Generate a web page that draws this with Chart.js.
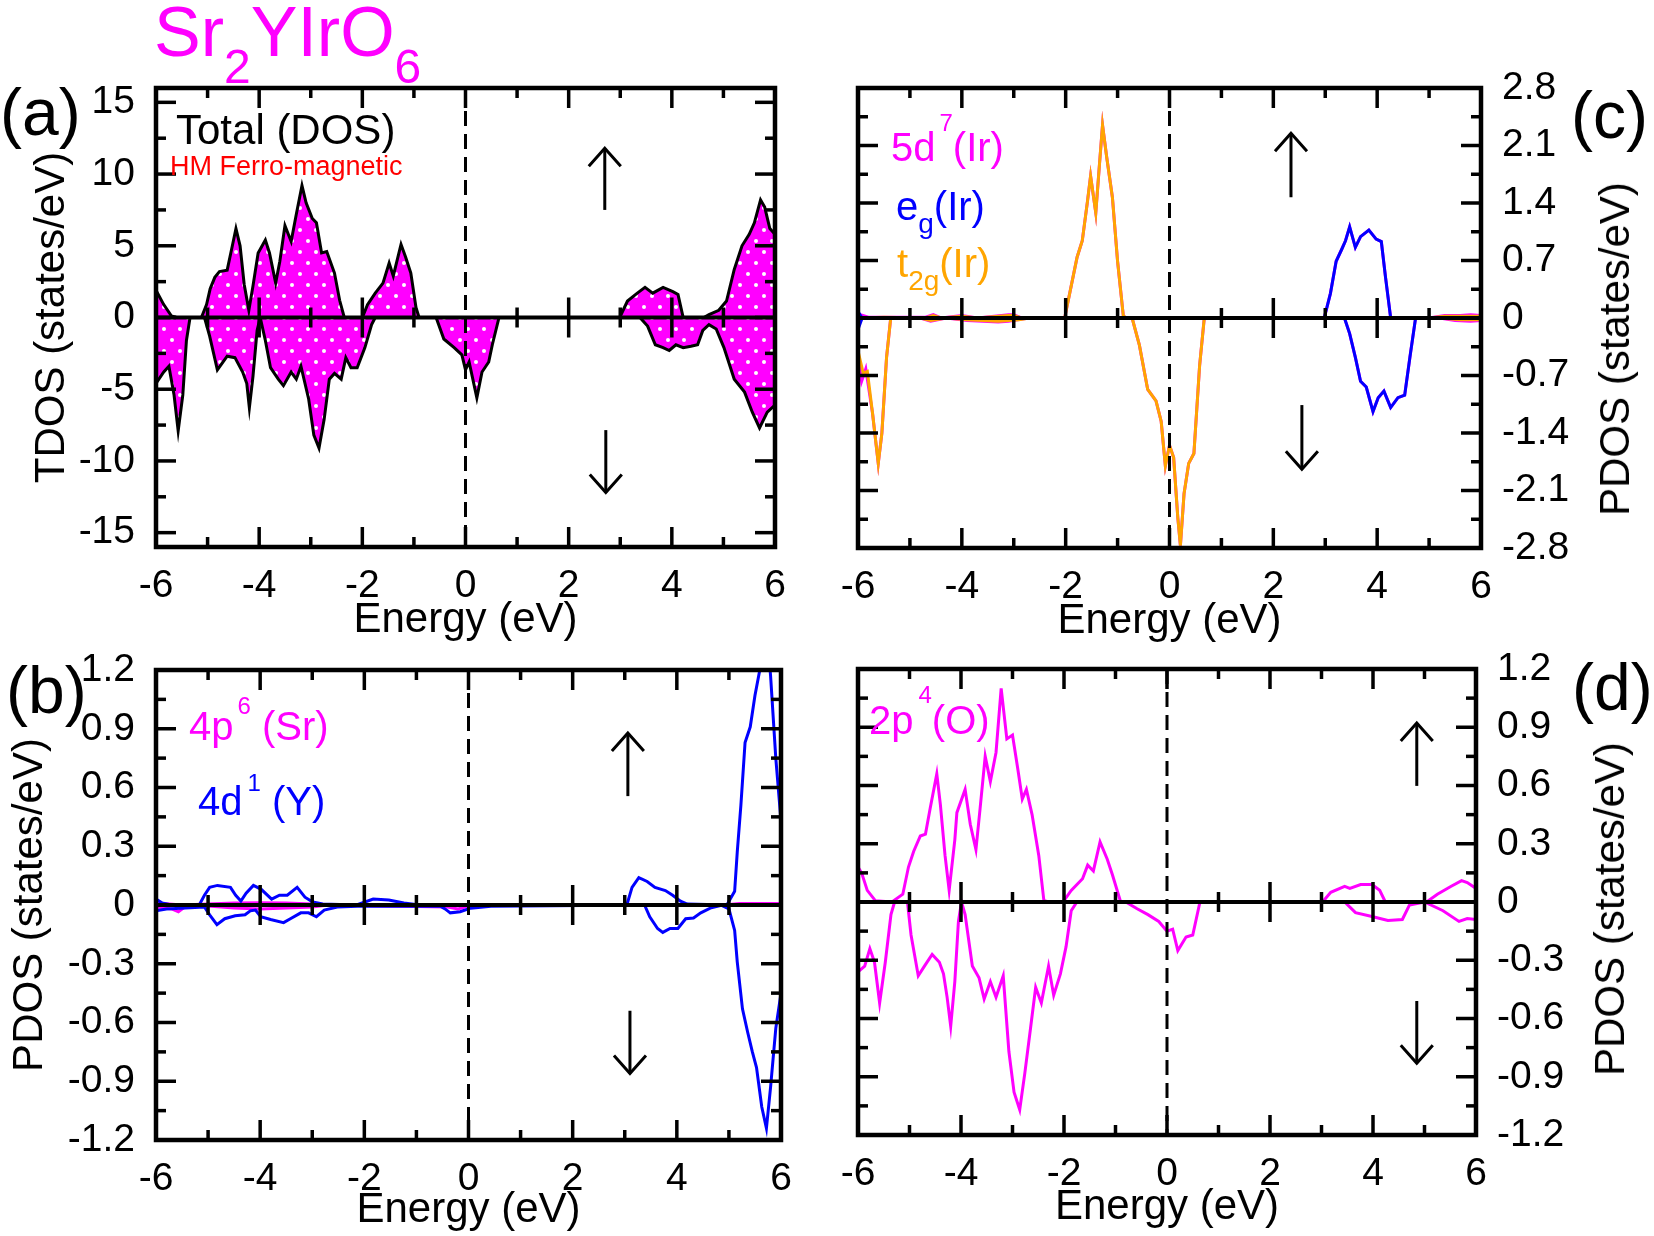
<!DOCTYPE html>
<html>
<head>
<meta charset="utf-8">
<title>Sr2YIrO6 DOS</title>
<script src="https://cdn.jsdelivr.net/npm/chart.js@4.4.0/dist/chart.umd.min.js"></script>
<style>
  body { margin: 0; background: #fff; }
  #page { position: relative; width: 1654px; height: 1236px; overflow: hidden;
          font-family: "Liberation Sans", Arial, sans-serif; }
  canvas { position: absolute; }
  .txt { position: absolute; line-height: 1; white-space: nowrap; }
  .sub, .sup { position: relative; line-height: 0; }
  .rot { transform: translate(-50%, -50%) rotate(-90deg); }
</style>
</head>
<body>
<div id="page">
  <canvas id="chartA" width="820" height="608" style="left:0;top:38px"></canvas>
  <canvas id="chartC" width="834" height="609" style="left:820px;top:38px"></canvas>
  <canvas id="chartB" width="826" height="616" style="left:0;top:620px"></canvas>
  <canvas id="chartD" width="834" height="614" style="left:820px;top:619px"></canvas>

  <div class="txt" style="left:154px;top:-3px;font-size:70px;color:#ff00ff">Sr<span class="sub" style="font-size:48px;top:27px">2</span>YIrO<span class="sub" style="font-size:48px;top:27px">6</span></div>

  <div class="txt" style="left:0;top:79px;font-size:66px">(a)</div>
  <div class="txt" style="left:1571px;top:82px;font-size:66px">(c)</div>
  <div class="txt" style="left:6px;top:657px;font-size:66px">(b)</div>
  <div class="txt" style="left:1572px;top:654px;font-size:66px">(d)</div>

  <div class="txt" style="left:176px;top:109px;font-size:42px">Total (DOS)</div>
  <div class="txt" style="left:170px;top:153px;font-size:27px;color:#ff0000">HM Ferro-magnetic</div>

  <div class="txt" style="left:891px;top:127px;font-size:40px;color:#ff00ff">5d<span class="sup" style="font-size:24px;top:-30px;margin-left:4px">7</span>(Ir)</div>
  <div class="txt" style="left:896px;top:186px;font-size:40px;color:#0000ff">e<span class="sub" style="font-size:28px;top:13px">g</span>(Ir)</div>
  <div class="txt" style="left:897px;top:243px;font-size:40px;color:#ffa500">t<span class="sub" style="font-size:28px;top:13px">2g</span>(Ir)</div>

  <div class="txt" style="left:189px;top:706px;font-size:40px;color:#ff00ff">4p<span class="sup" style="font-size:24px;top:-26px;margin-left:4px">6</span> (Sr)</div>
  <div class="txt" style="left:198px;top:781px;font-size:40px;color:#0000ff">4d<span class="sup" style="font-size:24px;top:-24px;margin-left:5px">1</span> (Y)</div>

  <div class="txt" style="left:869px;top:700px;font-size:40px;color:#ff00ff">2p<span class="sup" style="font-size:24px;top:-31px;margin-left:5px">4</span>(O)</div>

  <div class="txt rot" style="left:1615px;top:349px;font-size:42px">PDOS (states/eV)</div>
  <div class="txt rot" style="left:1610px;top:909px;font-size:42px">PDOS (states/eV)</div>
</div>

<script>
// setup: ticks
const energyTicks = [-6, -4, -2, 0, 2, 4, 6];
const energyLabels = ["-6", "-4", "-2", "0", "2", "4", "6"];
const tdosTicks = [-15, -10, -5, 0, 5, 10, 15];
const tdosLabels = ["-15", "-10", "-5", "0", "5", "10", "15"];
const irTicks = [-2.8, -2.1, -1.4, -0.7, 0, 0.7, 1.4, 2.1, 2.8];
const irLabels = ["-2.8", "-2.1", "-1.4", "-0.7", "0", "0.7", "1.4", "2.1", "2.8"];
const pdosTicks = [-1.2, -0.9, -0.6, -0.3, 0, 0.3, 0.6, 0.9, 1.2];
const pdosLabels = ["-1.2", "-0.9", "-0.6", "-0.3", "0", "0.3", "0.6", "0.9", "1.2"];

// setup: (a) total DOS
const tdosUpE = [-6, -5.85, -5.7, -5.6, -5.12, -5.02, -4.95, -4.86, -4.77, -4.62, -4.52, -4.45, -4.37, -4.29, -4.2, -4.12, -4.02, -3.88, -3.8, -3.68, -3.6, -3.5, -3.38, -3.28, -3.17, -3.09, -2.97, -2.89, -2.79, -2.69, -2.54, -2.44, -2.35, -2.0, -1.9, -1.75, -1.6, -1.48, -1.4, -1.25, -1.16, -1.06, -0.96, -0.9, 2.99, 3.14, 3.33, 3.48, 3.63, 3.83, 4.02, 4.12, 4.22, 4.62, 4.72, 4.91, 5.06, 5.21, 5.36, 5.5, 5.6, 5.72, 5.8, 5.9, 6.0];
const tdosUp = [1.9, 0.9, 0.1, 0, 0, 0.9, 2.0, 2.8, 3.2, 3.3, 5.0, 6.2, 5.0, 2.3, 0.5, 2.2, 4.5, 5.4, 4.5, 2.4, 3.9, 6.4, 5.3, 7.2, 9.2, 8.0, 6.9, 6.6, 4.5, 4.6, 3.1, 1.2, 0, 0, 0.9, 1.7, 2.4, 3.8, 2.9, 5.1, 4.2, 3.1, 0.7, 0, 0, 1.15, 1.7, 2.1, 1.7, 2.1, 1.8, 1.6, 0, 0, 0.2, 0.5, 1.15, 3.35, 5.0, 5.8, 6.6, 8.2, 7.7, 6.2, 5.8];
const tdosDnE = [-6, -5.85, -5.75, -5.65, -5.57, -5.48, -5.41, -5.34, -5.06, -4.96, -4.81, -4.62, -4.47, -4.32, -4.24, -4.19, -4.12, -4.04, -3.98, -3.88, -3.78, -3.63, -3.53, -3.38, -3.28, -3.19, -3.04, -2.94, -2.84, -2.74, -2.64, -2.54, -2.41, -2.32, -2.22, -2.1, -1.95, -1.82, -1.75, -0.57, -0.42, -0.22, -0.07, 0, 0.07, 0.22, 0.32, 0.45, 0.52, 0.65, 3.38, 3.53, 3.68, 3.83, 3.95, 4.08, 4.22, 4.37, 4.5, 4.6, 4.72, 4.86, 5.01, 5.21, 5.41, 5.56, 5.7, 5.85, 6];
const tdosDn = [-4.6, -3.8, -3.4, -5.4, -7.9, -5.4, -1.6, 0, 0, -1.3, -3.65, -2.7, -2.8, -3.8, -4.6, -6.3, -4.1, -0.9, 0, -1.6, -3.5, -4.3, -4.75, -3.8, -4.3, -3.4, -5.7, -8.2, -9.1, -7.1, -4.3, -3.9, -4.3, -2.8, -3.5, -3.5, -2.1, -0.5, 0, 0, -1.5, -2.1, -2.6, -3.65, -3.1, -5.6, -3.8, -3.1, -1.9, 0, 0, -0.6, -1.9, -2.1, -2.3, -1.9, -2.1, -2.0, -1.9, -0.9, -0.5, -0.8, -2.1, -4.3, -5.2, -6.6, -7.7, -6.6, -6.1];

// setup: (c) Ir 5d, eg, t2g
const t2gUpE = [-6, -5.5, -4.7, -4.55, -4.4, -4.0, -3.7, -3.1, -3.0, -2.85, -2.02, -1.89, -1.78, -1.68, -1.58, -1.52, -1.42, -1.35, -1.29, -1.21, -1.1, -1.0, -0.89, -0.84, 5.0, 5.3, 5.7, 6];
const t2gUp = [0, 0.01, 0, 0.03, 0, 0.02, 0, 0.03, 0.03, 0, 0, 0.4, 0.74, 0.94, 1.42, 1.73, 1.28, 1.86, 2.35, 1.96, 1.47, 0.69, 0.03, 0, 0, 0.02, 0.02, 0.02];
const t2gDnE = [-6, -5.9, -5.82, -5.72, -5.61, -5.54, -5.45, -5.37, -4.8, -4.6, -4.3, -3.9, -3.3, -3.1, -2.9, -2.7, -0.72, -0.58, -0.42, -0.26, -0.16, -0.08, 0, 0.08, 0.16, 0.21, 0.28, 0.37, 0.47, 0.58, 0.67, 5.2, 5.6, 6];
const t2gDn = [-0.4, -0.67, -0.65, -1.16, -1.77, -1.4, -0.48, 0, 0, -0.03, 0, -0.02, -0.04, -0.03, -0.02, 0, 0, -0.33, -0.87, -1.01, -1.26, -1.8, -1.55, -1.7, -2.43, -2.77, -2.14, -1.77, -1.65, -0.58, 0, 0, -0.02, -0.02];
const egUpE = [-6, -5.92, 2.98, 3.1, 3.21, 3.32, 3.39, 3.47, 3.58, 3.68, 3.84, 3.98, 4.08, 4.16, 4.26, 6];
const egUp = [0.08, 0, 0, 0.3, 0.69, 0.84, 0.94, 1.11, 0.86, 0.99, 1.07, 0.96, 0.93, 0.5, 0, 0];
const egDnE = [-6, -5.92, 3.37, 3.47, 3.58, 3.68, 3.79, 3.92, 4.02, 4.13, 4.26, 4.4, 4.53, 4.63, 4.74, 6];
const egDn = [-0.14, 0, 0, -0.19, -0.48, -0.77, -0.84, -1.14, -0.97, -0.89, -1.09, -0.97, -0.94, -0.48, 0, 0];
const ir5dUpE = [-6, -5.8, -5.5, -4.7, -4.55, -4.4, -4.0, -3.7, -3.1, -3.0, -2.85, -2.02, -1.89, -1.78, -1.68, -1.58, -1.52, -1.42, -1.35, -1.29, -1.21, -1.1, -1.0, -0.89, -0.84, 2.98, 3.1, 3.21, 3.32, 3.39, 3.47, 3.58, 3.68, 3.84, 3.98, 4.08, 4.16, 4.26, 5.0, 5.3, 5.6, 5.8, 6];
const ir5dUp = [0.05, 0.01, 0.01, 0.01, 0.04, 0, 0.03, 0, 0.04, 0.04, 0, 0, 0.4, 0.74, 0.94, 1.42, 1.73, 1.28, 1.86, 2.35, 1.96, 1.47, 0.69, 0.03, 0, 0, 0.3, 0.69, 0.84, 0.94, 1.11, 0.86, 0.99, 1.07, 0.96, 0.93, 0.5, 0, 0, 0.03, 0.03, 0.04, 0.03];
const ir5dDnE = [-6, -5.93, -5.85, -5.72, -5.61, -5.54, -5.45, -5.37, -4.8, -4.6, -4.3, -3.9, -3.3, -3.1, -2.9, -2.7, -0.72, -0.58, -0.42, -0.26, -0.16, -0.08, 0, 0.08, 0.16, 0.21, 0.28, 0.37, 0.47, 0.58, 0.67, 3.37, 3.47, 3.58, 3.68, 3.79, 3.92, 4.02, 4.13, 4.26, 4.4, 4.53, 4.63, 4.74, 5.2, 5.5, 5.8, 6];
const ir5dDn = [-0.45, -0.77, -0.62, -1.16, -1.77, -1.4, -0.48, 0, 0, -0.04, 0, -0.03, -0.05, -0.04, -0.02, 0, 0, -0.33, -0.87, -1.01, -1.26, -1.8, -1.55, -1.7, -2.43, -2.77, -2.14, -1.77, -1.65, -0.58, 0, 0, -0.19, -0.48, -0.77, -0.84, -1.14, -0.97, -0.89, -1.09, -0.97, -0.94, -0.48, 0, 0, -0.03, -0.04, -0.03];

// setup: (b) Sr 4p, Y 4d
const sr4pUpE = [-6, -5.5, -5.0, -4.5, -4.0, -3.5, -3.0, -2.5, 4.9, 5.2, 6];
const sr4pUp = [0.01, 0, 0.005, 0.01, 0.012, 0.01, 0.005, 0, 0, 0.008, 0.008];
const sr4pDnE = [-6, -5.7, -5.57, -5.45, -5.0, -4.5, -4.0, -3.5, -3.0, -2.7, -0.4, -0.2, 0, 0.3, 6];
const sr4pDn = [-0.01, -0.02, -0.035, -0.01, -0.005, -0.015, -0.02, -0.015, -0.01, 0, -0.01, -0.02, -0.005, 0, 0];
const y4dUpE = [-6, -5.88, -5.7, -5.17, -5.07, -4.97, -4.82, -4.57, -4.47, -4.37, -4.27, -4.13, -3.98, -3.78, -3.63, -3.48, -3.29, -3.14, -2.99, -2.8, -2.15, -1.83, -1.53, -1.24, -0.94, 3.04, 3.14, 3.27, 3.43, 3.58, 3.78, 3.92, 4.07, 4.2, 4.96, 5.11, 5.16, 5.23, 5.31, 5.41, 5.5, 5.6, 5.68, 5.76, 5.8, 5.9, 6.0];
const y4dUp = [0.03, 0.01, 0, 0, 0.05, 0.09, 0.1, 0.09, 0.05, 0.02, 0.06, 0.1, 0.08, 0.03, 0.05, 0.05, 0.09, 0.04, 0.015, 0.005, 0, 0.03, 0.026, 0.01, 0, 0, 0.09, 0.14, 0.12, 0.09, 0.074, 0.05, 0.02, 0.005, 0, 0.07, 0.27, 0.51, 0.83, 0.91, 1.07, 1.21, 1.3, 1.3, 1.17, 0.75, 0.43];
const y4dDnE = [-6, -5.8, -5.07, -4.97, -4.83, -4.68, -4.48, -4.29, -4.19, -4.09, -3.99, -3.8, -3.55, -3.42, -3.22, -3.07, -2.92, -2.77, -2.52, -2.13, -0.55, -0.45, -0.35, -0.16, 0.04, 0.43, 3.38, 3.48, 3.63, 3.73, 3.87, 4.02, 4.17, 4.32, 4.46, 4.66, 4.86, 5.0, 5.11, 5.16, 5.26, 5.36, 5.45, 5.53, 5.63, 5.72, 5.8, 5.9, 6.0];
const y4dDn = [-0.03, -0.02, -0.01, -0.05, -0.1, -0.07, -0.055, -0.05, -0.03, -0.026, -0.06, -0.074, -0.09, -0.07, -0.04, -0.04, -0.06, -0.026, -0.01, -0.006, -0.005, -0.02, -0.04, -0.034, -0.016, -0.006, 0, -0.06, -0.12, -0.14, -0.12, -0.12, -0.07, -0.066, -0.04, -0.014, -0.002, -0.02, -0.13, -0.29, -0.53, -0.65, -0.75, -0.83, -1.03, -1.14, -0.93, -0.63, -0.45];

// setup: (d) O 2p
const o2pUpE = [-6, -5.93, -5.82, -5.66, -5.34, -5.13, -5.02, -4.92, -4.79, -4.69, -4.6, -4.47, -4.4, -4.31, -4.23, -4.12, -4.08, -3.92, -3.82, -3.71, -3.63, -3.53, -3.43, -3.32, -3.22, -3.11, -3.0, -2.9, -2.81, -2.73, -2.62, -2.49, -2.39, -2.28, -2.02, -1.86, -1.64, -1.54, -1.43, -1.3, -1.16, -1.06, -0.9, 3.02, 3.18, 3.45, 3.55, 3.76, 3.98, 4.13, 4.24, 5.04, 5.25, 5.51, 5.72, 5.83, 6];
const o2pUp = [0.18, 0.15, 0.06, 0.006, 0, 0.04, 0.18, 0.26, 0.34, 0.35, 0.48, 0.66, 0.5, 0.24, 0.06, 0.32, 0.46, 0.58, 0.4, 0.27, 0.48, 0.75, 0.62, 0.77, 1.1, 0.84, 0.86, 0.69, 0.53, 0.58, 0.45, 0.24, 0.006, 0, 0, 0.06, 0.12, 0.19, 0.16, 0.31, 0.22, 0.14, 0, 0, 0.05, 0.08, 0.07, 0.09, 0.09, 0.06, 0, 0, 0.04, 0.08, 0.11, 0.1, 0.07];
const o2pDnE = [-6, -5.87, -5.77, -5.68, -5.58, -5.47, -5.36, -5.29, -5.04, -4.97, -4.83, -4.71, -4.56, -4.42, -4.34, -4.27, -4.2, -4.12, -4.05, -3.99, -3.92, -3.78, -3.65, -3.55, -3.43, -3.32, -3.18, -3.07, -2.97, -2.86, -2.76, -2.65, -2.55, -2.44, -2.3, -2.2, -2.07, -1.96, -1.86, -1.75, -0.8, -0.58, -0.37, -0.16, 0, 0.11, 0.21, 0.37, 0.5, 0.64, 3.45, 3.66, 3.98, 4.29, 4.57, 4.71, 5.0, 5.36, 5.67, 5.83, 6];
const o2pDn = [-0.36, -0.33, -0.24, -0.31, -0.52, -0.31, -0.065, 0, 0, -0.17, -0.38, -0.33, -0.27, -0.31, -0.37, -0.49, -0.64, -0.41, -0.1, 0, -0.065, -0.33, -0.39, -0.5, -0.41, -0.49, -0.38, -0.77, -0.98, -1.07, -0.88, -0.65, -0.44, -0.52, -0.33, -0.48, -0.37, -0.23, -0.045, 0, 0, -0.035, -0.065, -0.1, -0.15, -0.14, -0.25, -0.18, -0.17, 0, 0, -0.055, -0.075, -0.095, -0.09, -0.015, 0, -0.045, -0.1, -0.085, -0.09];

// helpers
Chart.defaults.color = "#000";
Chart.defaults.font.family = '"Liberation Sans", Arial, sans-serif';

const pts = (xs, ys) => xs.map((x, i) => ({ x: x, y: ys[i] }));

function curve(xs, ys, color, extra) {
  return Object.assign(
    { data: pts(xs, ys), borderColor: color, borderWidth: 3, pointRadius: 0, tension: 0, fill: false },
    extra || {}
  );
}

function line(ctx, x1, y1, x2, y2) {
  ctx.beginPath();
  ctx.moveTo(x1, y1);
  ctx.lineTo(x2, y2);
  ctx.stroke();
}

// frame, inward ticks, zero axis, Fermi level and spin arrows (xmgrace look)
const framePlugin = {
  id: "frame",
  afterDatasetsDraw(chart, args, o) {
    const { ctx, chartArea: a } = chart;
    const px = (v) => chart.scales.x.getPixelForValue(v);
    const py = (v) => chart.scales.y.getPixelForValue(v);
    ctx.save();
    ctx.strokeStyle = "#000";

    ctx.lineWidth = 3;
    ctx.setLineDash([15, 8]);
    line(ctx, px(0), a.top, px(0), a.bottom);
    ctx.setLineDash([]);

    ctx.lineWidth = 4;
    const y0 = py(0);
    line(ctx, a.left, y0, a.right, y0);
    ctx.lineWidth = 3.5;
    o.xMajor.forEach((v) => { if (v !== 0) line(ctx, px(v), y0 - 20, px(v), y0 + 20); });
    o.xMinor.forEach((v) => line(ctx, px(v), y0 - 10, px(v), y0 + 10));

    o.xMajor.forEach((v) => {
      line(ctx, px(v), a.bottom, px(v), a.bottom - 20);
      line(ctx, px(v), a.top, px(v), a.top + 20);
    });
    o.xMinor.forEach((v) => {
      line(ctx, px(v), a.bottom, px(v), a.bottom - 10);
      line(ctx, px(v), a.top, px(v), a.top + 10);
    });
    o.yMajor.forEach((v) => {
      line(ctx, a.left, py(v), a.left + 20, py(v));
      line(ctx, a.right, py(v), a.right - 20, py(v));
    });
    o.yMinor.forEach((v) => {
      line(ctx, a.left, py(v), a.left + 10, py(v));
      line(ctx, a.right, py(v), a.right - 10, py(v));
    });

    ctx.lineWidth = 4.5;
    ctx.strokeRect(a.left, a.top, a.right - a.left, a.bottom - a.top);

    ctx.lineWidth = 3;
    o.arrows.forEach((r) => {
      const ax = px(r.x), ya = py(r.from), yb = py(r.to);
      const d = yb < ya ? 1 : -1;
      line(ctx, ax, ya, ax, yb);
      ctx.beginPath();
      ctx.moveTo(ax - 16, yb + d * 18);
      ctx.lineTo(ax, yb);
      ctx.lineTo(ax + 16, yb + d * 18);
      ctx.stroke();
    });
    ctx.restore();
  },
};

function panelConfig(p) {
  return {
    type: "line",
    data: { datasets: p.datasets },
    plugins: [framePlugin],
    options: {
      responsive: false,
      animation: false,
      layout: { padding: p.padding },
      plugins: { legend: { display: false }, tooltip: { enabled: false }, frame: p.frame },
      scales: {
        x: {
          type: "linear",
          min: -6,
          max: 6,
          afterBuildTicks: (s) => { s.ticks = energyTicks.map((v) => ({ value: v })); },
          afterFit: (s) => { s.height = p.xHeight; },
          grid: { display: false, drawTicks: false },
          border: { display: false },
          ticks: { autoSkip: false, maxRotation: 0, padding: 16, font: { size: 39 },
                   callback: (v, i) => energyLabels[i] },
          title: { display: true, text: "Energy (eV)", font: { size: 42 }, padding: { top: 0, bottom: 0 } },
        },
        y: {
          type: "linear",
          position: p.yPos,
          min: p.yMin,
          max: p.yMax,
          afterBuildTicks: (s) => { s.ticks = p.yTicks.map((v) => ({ value: v })); },
          afterFit: (s) => { s.width = p.yWidth; },
          grid: { display: false, drawTicks: false },
          border: { display: false },
          ticks: { autoSkip: false, padding: 21, font: { size: 39 },
                   callback: (v, i) => p.yLabels[i] },
          title: p.yTitle
            ? { display: true, text: p.yTitle, font: { size: 42 }, padding: { top: p.yTitlePad, bottom: 0 } }
            : { display: false },
        },
      },
    },
  };
}

// dotted magenta fill of the total DOS
const canvasA = document.getElementById("chartA");
const tile = document.createElement("canvas");
tile.width = 16;
tile.height = 22;
const tctx = tile.getContext("2d");
tctx.fillStyle = "#ff00ff";
tctx.fillRect(0, 0, 16, 22);
tctx.fillStyle = "#ffffff";
[[4, 5], [12, 16]].forEach(([cx, cy]) => {
  tctx.beginPath();
  tctx.arc(cx, cy, 2, 0, 2 * Math.PI);
  tctx.fill();
});
const dots = canvasA.getContext("2d").createPattern(tile, "repeat");

const xMajor = [-4, -2, 0, 2, 4];
const xMinor = [-5, -3, -1, 1, 3, 5];

// (a)
const chartA = new Chart(canvasA, panelConfig({
  datasets: [
    curve(tdosUpE, tdosUp, "#000", { fill: "origin", backgroundColor: dots }),
    curve(tdosDnE, tdosDn, "#000", { fill: "origin", backgroundColor: dots }),
  ],
  yMin: -16, yMax: 16,
  yTicks: tdosTicks, yLabels: tdosLabels, yPos: "left", yWidth: 156, xHeight: 99,
  padding: { top: 50, right: 45, left: 0, bottom: 0 },
  yTitle: "TDOS (states/eV)", yTitlePad: 27,
  frame: {
    xMajor: xMajor, xMinor: xMinor,
    yMajor: [-15, -10, -5, 0, 5, 10, 15], yMinor: [-12.5, -7.5, -2.5, 2.5, 7.5, 12.5],
    arrows: [{ x: 2.7, from: 7.5, to: 11.8 }, { x: 2.72, from: -7.85, to: -12.2 }],
  },
}));

// (c)
const chartC = new Chart(document.getElementById("chartC"), panelConfig({
  datasets: [
    curve(t2gUpE, t2gUp, "#ffa500"),
    curve(t2gDnE, t2gDn, "#ffa500"),
    curve(egUpE, egUp, "#0000ff"),
    curve(egDnE, egDn, "#0000ff"),
    curve(ir5dUpE, ir5dUp, "#ff00ff"),
    curve(ir5dDnE, ir5dDn, "#ff00ff"),
  ],
  yMin: -2.8, yMax: 2.8,
  yTicks: irTicks, yLabels: irLabels, yPos: "right", yWidth: 173, xHeight: 99,
  padding: { top: 50, right: 0, left: 38, bottom: 0 },
  yTitle: null,
  frame: {
    xMajor: xMajor, xMinor: xMinor,
    yMajor: [-2.1, -1.4, -0.7, 0, 0.7, 1.4, 2.1], yMinor: [-2.45, -1.75, -1.05, -0.35, 0.35, 1.05, 1.75, 2.45],
    arrows: [{ x: 2.34, from: 1.47, to: 2.25 }, { x: 2.55, from: -1.06, to: -1.84 }],
  },
}));

// (b)
const chartB = new Chart(document.getElementById("chartB"), panelConfig({
  datasets: [
    curve(y4dUpE, y4dUp, "#0000ff"),
    curve(y4dDnE, y4dDn, "#0000ff"),
    curve(sr4pUpE, sr4pUp, "#ff00ff"),
    curve(sr4pDnE, sr4pDn, "#ff00ff"),
  ],
  yMin: -1.2, yMax: 1.2,
  yTicks: pdosTicks, yLabels: pdosLabels, yPos: "left", yWidth: 156, xHeight: 96,
  padding: { top: 50, right: 45, left: 0, bottom: 0 },
  yTitle: "PDOS (states/eV)", yTitlePad: 5,
  frame: {
    xMajor: xMajor, xMinor: xMinor,
    yMajor: [-0.9, -0.6, -0.3, 0, 0.3, 0.6, 0.9], yMinor: [-1.05, -0.75, -0.45, -0.15, 0.15, 0.45, 0.75, 1.05],
    arrows: [{ x: 3.06, from: 0.556, to: 0.878 }, { x: 3.1, from: -0.54, to: -0.86 }],
  },
}));

// (d)
const chartD = new Chart(document.getElementById("chartD"), panelConfig({
  datasets: [
    curve(o2pUpE, o2pUp, "#ff00ff"),
    curve(o2pDnE, o2pDn, "#ff00ff"),
  ],
  yMin: -1.2, yMax: 1.2,
  yTicks: pdosTicks, yLabels: pdosLabels, yPos: "right", yWidth: 178, xHeight: 98,
  padding: { top: 50, right: 0, left: 38, bottom: 0 },
  yTitle: null,
  frame: {
    xMajor: xMajor, xMinor: xMinor,
    yMajor: [-0.9, -0.6, -0.3, 0, 0.3, 0.6, 0.9], yMinor: [-1.05, -0.75, -0.45, -0.15, 0.15, 0.45, 0.75, 1.05],
    arrows: [{ x: 4.85, from: 0.598, to: 0.922 }, { x: 4.85, from: -0.51, to: -0.83 }],
  },
}));
</script>
</body>
</html>
